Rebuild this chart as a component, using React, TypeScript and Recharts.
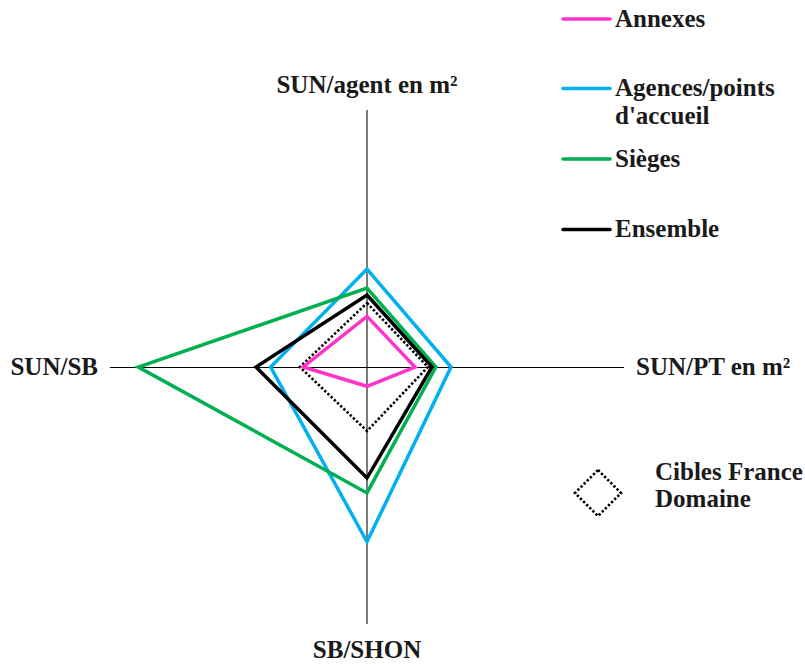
import React from 'react'
import { PolarAngleAxis, PolarGrid, PolarRadiusAxis, Radar, RadarChart } from 'recharts';

// axis names, clockwise from the top
const axes: string[] = ['SUN/agent en m²', 'SUN/PT en m²', 'SB/SHON', 'SUN/SB'];

// values, in % of the axis length
const annexes: number[] = [19.7, 18.7, 7.5, 24.8];
const agences: number[] = [38.1, 32.7, 68.0, 37.5];
const sieges: number[] = [30.7, 26.8, 49.0, 89.0];
const ensemble: number[] = [28.0, 25.3, 43.2, 43.2];
const cibles: number[] = [24.9, 23.7, 24.9, 26.1];

const W = 805;
const H = 664;
const CX = 367;
const CY = 367;
const R = 257;
const FONT = '"Liberation Serif", "Times New Roman", serif';

const data = axes.map((name, i) => ({
  name,
  annexes: annexes[i],
  agences: agences[i],
  sieges: sieges[i],
  ensemble: ensemble[i],
  cibles: cibles[i],
}));

const AxisLabel = (props: any) => {
  const { payload, index } = props;
  let x = CX;
  let y = CY;
  let anchor: 'start' | 'middle' | 'end' = 'middle';
  if (index === 0) { y = CY - R - 17; }
  else if (index === 1) { x = CX + R + 12; y = CY + 8; anchor = 'start'; }
  else if (index === 2) { y = CY + R + 34; }
  else { x = CX - R - 12; y = CY + 8; anchor = 'end'; }
  return (
    <text x={x} y={y} textAnchor={anchor} fontFamily={FONT} fontWeight="bold" fontSize={25} fill="#1a1a1a">
      {payload.value}
    </text>
  );
}

const legendItems = [
  { lines: ['Annexes'], color: '#FF33CC', y: 19 },
  { lines: ['Agences/points', "d'accueil"], color: '#00B0F0', y: 88.5 },
  { lines: ['Sièges'], color: '#00B050', y: 159 },
  { lines: ['Ensemble'], color: '#000000', y: 229.5 },
];

const App = () => {
  return (
    <div style={{ position: 'absolute', left: 0, top: 0, width: W, height: H, background: '#fff' }}>
      <RadarChart width={W} height={H} data={data} cx={CX} cy={CY} outerRadius={R}
        margin={{ top: 0, right: 0, bottom: 0, left: 0 }}>
        <PolarGrid gridType="polygon" polarRadius={[0]} polarAngles={[90, 270]} stroke="#7a7a7a" strokeWidth={2} />
        <PolarGrid gridType="polygon" polarRadius={[0]} polarAngles={[0, 180]} stroke="#000" strokeWidth={1} shapeRendering="crispEdges" />
        <PolarRadiusAxis domain={[0, 100]} axisLine={false} tick={false} />
        <PolarAngleAxis dataKey="name" axisLine={false} tickLine={false} tick={AxisLabel} />
        <Radar dataKey="cibles" stroke="#000" strokeWidth={2.6} strokeDasharray="2.4 2" fill="none" fillOpacity={0} isAnimationActive={false} />
        <Radar dataKey="agences" stroke="#00B0F0" strokeWidth={3.5} fill="none" fillOpacity={0} isAnimationActive={false} />
        <Radar dataKey="sieges" stroke="#00B050" strokeWidth={3.5} fill="none" fillOpacity={0} isAnimationActive={false} />
        <Radar dataKey="ensemble" stroke="#000" strokeWidth={3.5} fill="none" fillOpacity={0} isAnimationActive={false} />
        <Radar dataKey="annexes" stroke="#FF33CC" strokeWidth={3.5} fill="none" fillOpacity={0} isAnimationActive={false} />
      </RadarChart>
      <svg width={W} height={H} style={{ position: 'absolute', left: 0, top: 0, pointerEvents: 'none' }}>
        {legendItems.map((it) => (
          <g key={it.lines[0]}>
            <line x1={563} x2={610} y1={it.y} y2={it.y} stroke={it.color} strokeWidth={3.5} strokeLinecap="round" />
            {it.lines.map((t, j) => (
              <text key={t} x={615} y={it.y + 7.5 + j * 28.3} fontFamily={FONT} fontWeight="bold" fontSize={25} fill="#1a1a1a">{t}</text>
            ))}
          </g>
        ))}
        <polygon points="598,470 621,493 598,516 575,493" fill="none" stroke="#000" strokeWidth={2.6} strokeDasharray="2.4 2" />
        <text x={655} y={480} fontFamily={FONT} fontWeight="bold" fontSize={25} fill="#1a1a1a">Cibles France</text>
        <text x={655} y={506.5} fontFamily={FONT} fontWeight="bold" fontSize={25} fill="#1a1a1a">Domaine</text>
      </svg>
    </div>
  );
}

export default App
